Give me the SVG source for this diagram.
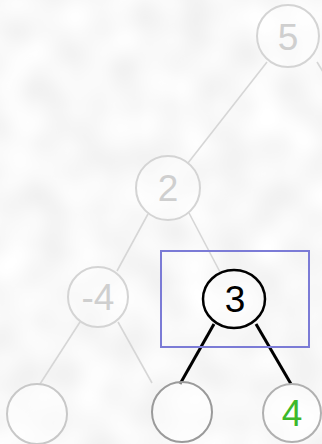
<svg xmlns="http://www.w3.org/2000/svg" width="322" height="444" viewBox="0 0 322 444">
<defs>
<filter id="bgnoise" x="0" y="0" width="100%" height="100%">
<feTurbulence type="fractalNoise" baseFrequency="0.028" numOctaves="1" seed="7" result="n"/>
<feColorMatrix in="n" type="matrix" values="0.24 0 0 0 0.82  0.24 0 0 0 0.82  0.24 0 0 0 0.82  0 0 0 0 1"/>
</filter>
<style>
.faint{fill:none;stroke:#d6d6d6;stroke-width:1.6}
.strong{fill:none;stroke:#000;stroke-width:3}
.ghost circle{fill:#ffffff;fill-opacity:0.35;stroke:#d4d4d4;stroke-width:2}
.ghost text{fill:#cfcfcf}
.leaf circle{fill:#ffffff;fill-opacity:0.5;stroke:#aaaaaa;stroke-width:2}
text{font-family:"Liberation Sans",Arial,sans-serif;font-size:37px;text-anchor:middle}
</style>
</defs>
<rect width="322" height="444" filter="url(#bgnoise)"/>
<g id="connectors">
<line class="faint" x1="267" y1="62" x2="188" y2="163"/>
<line class="faint" x1="317" y1="62" x2="325" y2="75"/>
<line class="faint" x1="148" y1="214" x2="117" y2="271"/>
<line class="faint" x1="189" y1="213" x2="220" y2="272"/>
<line class="faint" x1="80" y1="322" x2="40" y2="384"/>
<line class="faint" x1="118" y1="322" x2="152" y2="383"/>
<line class="strong" x1="214" y1="324" x2="180" y2="384"/>
<line class="strong" x1="256" y1="324" x2="291" y2="384"/>
</g>
<g id="node-5" class="ghost"><circle cx="288" cy="36" r="31"/><text x="288" y="50">5</text></g>
<g id="node-2" class="ghost"><circle cx="168" cy="188" r="32"/><text x="168" y="201">2</text></g>
<g id="node--4" class="ghost"><circle cx="98" cy="297" r="30"/><text x="98" y="310">-4</text></g>
<g id="node-3"><ellipse cx="234" cy="299" rx="31" ry="29" fill="#fff" fill-opacity="0.3" stroke="#000" stroke-width="2.5"/><text x="235" y="312" fill="#000">3</text></g>
<g id="node-leaf-left" class="leaf"><circle cx="37" cy="414" r="30" style="stroke:#c8c8c8"/></g>
<g id="node-leaf-mid" class="leaf"><circle cx="182" cy="412" r="30" style="stroke:#9a9a9a"/></g>
<g id="node-4" class="leaf"><circle cx="292" cy="413" r="29" style="stroke:#b0b0b0"/><text x="292" y="426" fill="#3cb82a">4</text></g>
<g id="selection"><rect x="161" y="251" width="148" height="96" fill="none" stroke="#7b7bd6" stroke-width="2"/></g>
</svg>
